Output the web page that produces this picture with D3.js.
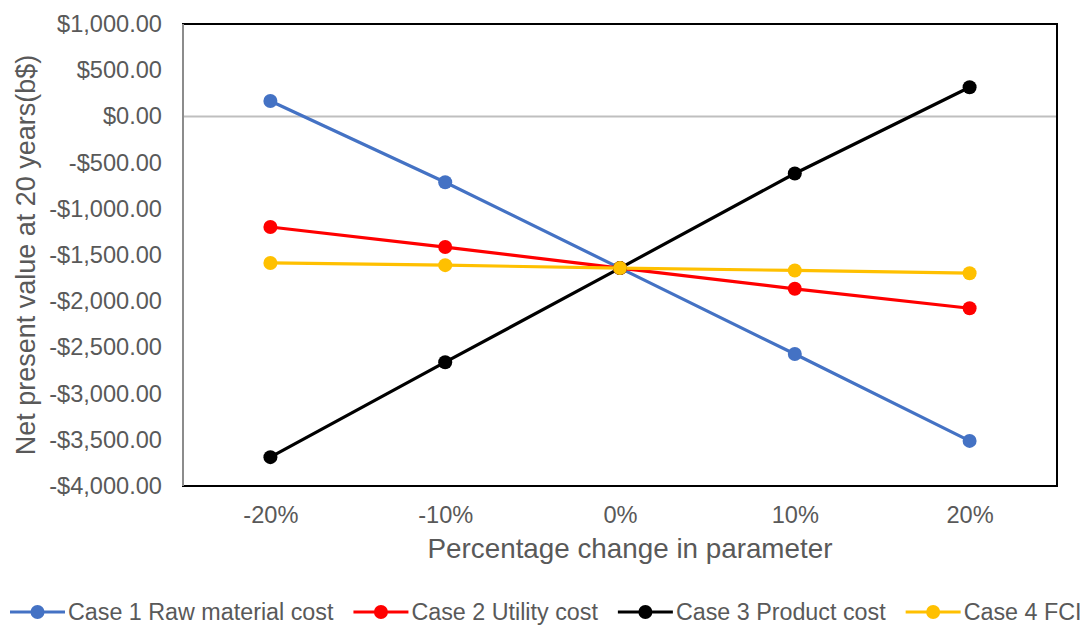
<!DOCTYPE html>
<html>
<head>
<meta charset="utf-8">
<script src="https://cdn.jsdelivr.net/npm/d3@7"></script>
<style>
  html, body { margin: 0; padding: 0; background: #fff; }
  svg { display: block; font-family: "Liberation Sans", Arial, sans-serif; }
</style>
</head>
<body>
<svg id="chart" width="1092" height="625"></svg>
<script>
const categories = ["-20%", "-10%", "0%", "10%", "20%"];
const seriesNames = ["Case 1 Raw material cost", "Case 2 Utility cost", "Case 3 Product cost", "Case 4 FCI"];
const seriesColors = ["#4472C4", "#FF0000", "#000000", "#FFC000"];
const case1 = [167, -712, -1642, -2572, -3512];
const case2 = [-1197, -1414, -1642, -1866, -2076];
const case3 = [-3688, -2660, -1642, -618, 316];
const case4 = [-1586, -1610, -1642, -1667, -1697];
const yTicks = [1000, 500, 0, -500, -1000, -1500, -2000, -2500, -3000, -3500, -4000];

const allSeries = [case1, case2, case3, case4];

const svg = d3.select("#chart");
const m = { left: 183, right: 1057, top: 24, bottom: 486 };

const x = d3.scalePoint().domain(categories).range([m.left, m.right]).padding(0.5);
const y = d3.scaleLinear().domain([-4000, 1000]).range([m.bottom, m.top]);

const textColor = "#595959";
const fmt = v => (v < 0 ? "-$" : "$") + d3.format(",.2f")(Math.abs(v));

// zero gridline
svg.append("line")
  .attr("x1", m.left).attr("x2", m.right)
  .attr("y1", y(0)).attr("y2", y(0))
  .attr("stroke", "#BFBFBF").attr("stroke-width", 2);

// plot border
svg.append("rect")
  .attr("x", m.left).attr("y", m.top)
  .attr("width", m.right - m.left).attr("height", m.bottom - m.top)
  .attr("fill", "none").attr("stroke", "#000").attr("stroke-width", 2);

// y axis line (gray)
svg.append("line")
  .attr("x1", m.left).attr("x2", m.left)
  .attr("y1", m.top).attr("y2", m.bottom)
  .attr("stroke", "#8C8C8C").attr("stroke-width", 2);

// Y axis labels
const yAxis = d3.axisLeft(y).tickValues(yTicks).tickFormat(fmt).tickSize(0).tickPadding(21);
const yg = svg.append("g").attr("transform", `translate(${m.left},0)`).call(yAxis);
yg.select(".domain").remove();
yg.selectAll("text").attr("fill", textColor).attr("font-size", 23.6)
  .attr("font-family", "Liberation Sans, Arial, sans-serif");

// X axis labels
const xAxis = d3.axisBottom(x).tickSize(0).tickPadding(20);
const xg = svg.append("g").attr("transform", `translate(0,${m.bottom})`).call(xAxis);
xg.select(".domain").remove();
xg.selectAll("text").attr("fill", textColor).attr("font-size", 23.6)
  .attr("font-family", "Liberation Sans, Arial, sans-serif");

// axis titles
svg.append("text")
  .attr("x", (m.left + m.right) / 2 + 10).attr("y", 558)
  .attr("text-anchor", "middle").attr("fill", textColor).attr("font-size", 27.8)
  .text("Percentage change in parameter");

svg.append("text")
  .attr("transform", `translate(35,${(m.top + m.bottom) / 2}) rotate(-90)`)
  .attr("text-anchor", "middle").attr("fill", textColor).attr("font-size", 27)
  .text("Net present value at 20 years(b$)");

// series
const line = d3.line().x((d, i) => x(categories[i])).y(d => y(d));
allSeries.forEach((s, k) => {
  svg.append("path").datum(s)
    .attr("d", line).attr("fill", "none")
    .attr("stroke", seriesColors[k]).attr("stroke-width", 3.2);
});
allSeries.forEach((s, k) => {
  svg.append("g").selectAll("circle").data(s).join("circle")
    .attr("cx", (d, i) => x(categories[i])).attr("cy", d => y(d))
    .attr("r", 7).attr("fill", seriesColors[k]);
});

// legend
let lx = 10;
const ly = 612;
seriesNames.forEach((name, k) => {
  const g = svg.append("g");
  g.append("line").attr("x1", lx).attr("x2", lx + 55).attr("y1", ly).attr("y2", ly)
    .attr("stroke", seriesColors[k]).attr("stroke-width", 3.2);
  g.append("circle").attr("cx", lx + 27.5).attr("cy", ly).attr("r", 7).attr("fill", seriesColors[k]);
  const t = g.append("text").attr("x", lx + 58).attr("y", ly).attr("dy", "0.35em")
    .attr("fill", textColor).attr("font-size", 23.3).text(name);
  lx = lx + 58 + t.node().getComputedTextLength() + 20;
});
</script>
</body>
</html>
